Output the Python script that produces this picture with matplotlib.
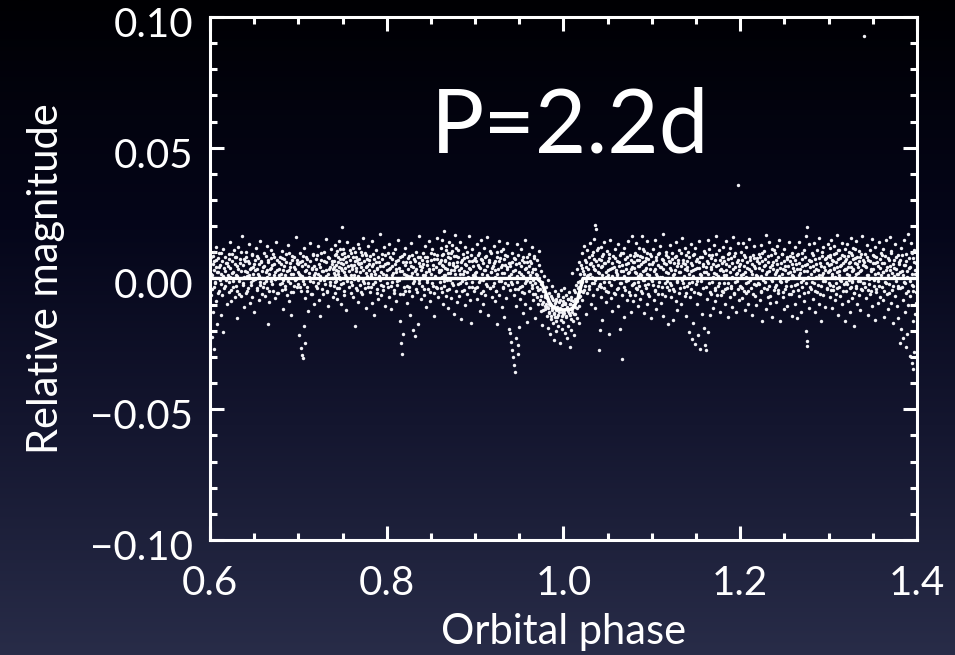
import numpy as np
import matplotlib
matplotlib.use('Agg')
import matplotlib.pyplot as plt
import matplotlib.transforms as mtransforms
from matplotlib.colors import LinearSegmentedColormap
from matplotlib.ticker import MultipleLocator, FormatStrFormatter, FuncFormatter

# Phase-folded light curve
# scattered points: (phase x1000, relative magnitude x10000)
obs = [
    (600, 31), (601, -62), (601, 84), (602, -225), (602, 12), (603, 57), (603, -128), (604, 103), (604, -34), (605, -269),
    (605, 68), (606, -19), (607, 121), (607, -87), (608, 26), (608, -174), (609, 79), (610, -48), (610, 43), (611, -7),
    (612, 96), (612, -141), (613, 18), (614, -65), (615, 112), (615, -203), (616, 39), (617, -28), (618, 61), (619, -99),
    (620, 47), (621, -15), (621, 92), (622, -53), (623, 138), (623, 5), (624, -88), (625, 66), (626, -31), (626, 24),
    (627, 107), (628, -72), (629, 14), (629, 81), (630, -46), (631, -152), (632, 35), (632, 119), (633, -9), (634, 58),
    (635, -67), (636, 163), (636, 2), (637, -24), (638, 74), (639, -110),
    (640, 29), (641, -57), (641, 101), (642, 8), (643, -36), (643, 67), (644, 132), (645, -95), (646, 41), (646, -14),
    (647, 88), (648, -71), (649, 19), (650, -128), (650, 55), (651, -3), (652, 115), (653, -44), (653, 36), (654, 77),
    (655, -82), (656, 11), (657, -26), (657, 145), (658, 62), (659, -58),
    (660, 44), (661, -19), (661, 96), (662, -66), (663, 23), (664, 125), (664, -38), (665, 6), (666, -176), (666, 71),
    (667, -91), (668, 37), (669, -11), (669, 109), (670, 52), (671, -49), (672, 15), (672, 84), (673, -73), (674, -2),
    (675, 139), (676, 31), (677, -56), (678, 63), (679, -21),
    (680, 18), (681, -44), (681, 79), (682, 106), (683, -7), (683, -117), (684, 48), (685, -29), (686, 92), (686, 3),
    (687, -63), (688, 127), (689, 34), (689, -85), (690, 61), (691, -16), (692, -139), (692, 19), (693, 85), (694, -52),
    (695, 42), (696, -4), (697, 158), (698, -34), (699, 70),
    (700, -23), (700, 54), (701, -215), (702, 13), (702, 97), (703, -264), (703, -47), (704, -292), (704, 66), (705, -306),
    (705, -8), (706, -181), (706, 118), (707, 27), (707, -248), (708, -76), (709, 82), (710, -31), (711, 46), (711, -125),
    (712, 5), (713, 134), (714, -58), (715, 38), (716, -14), (717, 91), (718, -97), (719, 22),
    (720, 74), (721, -38), (722, 17), (722, 123), (723, -82), (724, 44), (725, -6), (725, -143), (726, 99), (727, 28),
    (728, -61), (729, 68), (730, -22), (731, 151), (731, 9), (732, -47), (733, 83), (734, -106), (735, 35), (736, -15),
    (737, 112), (738, 56), (739, -69), (739, 2),
    (740, 45), (740, -27), (741, 88), (741, 12), (742, -54), (742, 129), (743, 31), (743, -8), (744, 104), (744, -79),
    (745, 62), (745, 17), (746, -38), (746, 145), (747, 76), (747, -3), (748, -96), (748, 39), (749, 198), (749, 92),
    (750, -19), (751, 57), (751, 113), (752, -64), (752, 24), (753, 81), (754, -121), (754, 6), (755, 139), (756, 49),
    (757, -33), (758, 71), (759, -57), (759, 15),
    (760, 96), (760, -12), (761, 38), (762, -71), (762, 117), (763, 53), (763, -2), (764, -183), (765, 84), (765, 27),
    (766, -44), (767, 133), (767, 61), (768, -89), (768, 11), (769, 75), (770, -26), (771, 102), (771, 42), (772, -58),
    (773, -8), (773, 156), (774, 68), (775, -37), (776, 21), (776, 89), (777, -113), (778, 47), (779, -16), (779, 124),
    (780, 33), (781, -51), (781, 87), (782, 9), (783, -94), (783, 142), (784, 56), (785, -23), (786, 73), (786, -141),
    (787, 18), (788, 107), (789, -42), (789, 39), (790, -78), (791, 64), (792, -5), (792, 171), (793, 26), (794, -62),
    (795, 95), (796, -30), (796, 48), (797, 121), (798, -104), (799, 14),
    (800, 58), (801, -34), (801, 99), (802, 3), (803, -72), (803, 131), (804, 41), (805, -118), (806, 76), (806, -13),
    (807, 22), (808, -55), (809, 112), (810, 35), (810, -87), (811, 68), (812, -24), (813, 149), (814, -4), (815, -162),
    (815, 81), (816, -246), (817, -287), (817, 29), (818, -61), (818, -211), (819, 94),
    (820, 17), (821, -46), (821, 118), (822, 62), (823, -93), (824, 8), (825, 85), (825, -31), (826, -138), (827, 47),
    (828, 136), (829, -67), (829, 21), (830, -196), (831, 73), (831, -9), (832, -221), (833, 103), (833, 38), (834, -52),
    (835, -174), (836, 59), (837, -17), (837, 162), (838, 84), (839, -79),
    (840, 44), (840, -28), (841, 97), (842, -63), (843, 15), (843, 126), (844, -108), (845, 52), (846, -4), (846, 83),
    (847, -41), (848, 143), (848, 27), (849, -86), (850, 69), (851, -19), (851, 111), (852, 36), (853, -57), (854, -142),
    (854, 92), (855, 8), (856, -33), (857, 76), (857, 155), (858, -71), (859, 23),
    (860, 64), (860, -14), (861, 118), (861, 33), (862, -52), (862, 89), (863, 7), (863, 147), (864, -96), (864, 46),
    (865, 183), (865, -27), (866, 71), (866, 15), (867, -66), (867, 124), (868, 38), (868, -5), (869, 96), (869, -112),
    (870, 55), (871, -39), (871, 138), (872, 22), (872, 79), (873, -74), (874, 104), (874, -18), (875, 61), (876, -135),
    (876, 31), (877, 168), (878, -48), (878, 86), (879, 2), (879, -91),
    (880, 49), (881, -23), (881, 107), (882, -67), (883, 17), (883, 139), (884, -154), (885, 72), (885, -8), (886, 94),
    (887, -43), (887, 28), (888, 121), (889, -101), (889, 56), (890, -19), (891, 83), (891, -59), (892, 6), (893, 164),
    (893, 41), (894, -82), (895, -171), (896, 67), (896, -31), (897, 112), (898, 14), (899, -48),
    (900, 78), (900, -36), (901, 25), (902, -79), (902, 131), (903, 53), (904, -12), (904, 99), (905, -123), (906, 39),
    (907, -55), (907, 146), (908, 71), (909, -4), (909, -96), (910, 118), (911, 31), (911, -65), (912, 87), (913, -27),
    (914, 157), (914, 12), (915, -141), (916, 63), (917, -38), (917, 104), (918, 24), (919, -72),
    (920, 47), (921, -18), (921, 126), (922, -88), (923, 68), (923, 5), (924, -47), (925, 101), (925, -176), (926, 36),
    (927, -63), (927, 143), (928, 79), (929, -11), (930, -108), (930, 52), (931, 114), (932, -34), (933, 21), (933, -147),
    (934, 89), (935, -76), (936, 137), (936, 43), (937, -24), (938, -193), (939, 61),
    (940, -207), (940, 46), (941, -242), (941, -15), (942, -274), (942, 97), (943, -301), (943, 28), (944, -331), (944, -62),
    (945, -358), (945, 73), (946, -226), (946, -104), (947, 132), (947, 9), (948, -288), (948, -41), (949, -253), (950, 58),
    (950, -187), (951, -79), (952, 114), (952, 19), (953, -29), (954, -132), (954, 81), (955, -55), (956, 37), (957, -98),
    (957, 148), (958, -11), (959, 64), (959, -165),
    (960, 23), (961, -47), (961, 93), (962, -114), (962, 12), (963, 58), (964, -26), (964, 121), (965, -81), (966, 35),
    (966, -7), (967, 87), (968, -58), (968, -152), (969, 17), (970, -33), (970, 69), (971, -97), (972, 3), (972, 105),
    (973, -42), (974, -123), (974, 28), (975, -66), (976, -14), (976, -178), (977, -89), (978, -41), (978, 9), (979, -118),
    (979, -62),
    (980, -96), (980, -31), (981, -142), (981, -73), (982, -112), (982, -5), (983, -188), (983, -88), (984, -54), (984, -131),
    (985, -213), (985, -102), (986, -68), (986, -156), (987, -119), (987, -29), (988, -171), (988, -84), (989, -137), (989, -236),
    (990, -95), (990, -48), (991, -164), (991, -122), (992, -77), (992, -201), (993, -109), (993, -148), (994, -61), (994, -183),
    (995, -128), (995, -91), (996, -247), (996, -115), (997, -43), (997, -159), (998, -102), (998, -193), (999, -134), (999, -72),
    (1000, -86), (1000, -168), (1001, -121), (1001, -38), (1002, -207), (1002, -97), (1003, -143), (1003, -64), (1004, -229), (1004, -112),
    (1005, -79), (1005, -182), (1006, -131), (1006, -52), (1007, -261), (1007, -99), (1008, -154), (1008, -118), (1009, -71), (1009, -196),
    (1010, -127), (1010, 21), (1011, -88), (1011, -162), (1012, -43), (1012, -218), (1013, -109), (1013, -136), (1014, -24), (1014, -78),
    (1015, -151), (1015, 37), (1016, -59), (1016, -12), (1017, -104), (1017, 64), (1018, -33), (1018, -172), (1019, 18), (1019, -67),
    (1020, 52), (1020, -21), (1021, 98), (1021, -84), (1022, 29), (1023, -43), (1023, 126), (1024, 71), (1025, -8), (1025, -136),
    (1026, 44), (1027, 109), (1027, -57), (1028, 13), (1029, 82), (1029, -29), (1030, 137), (1031, -96), (1031, 58), (1032, 6),
    (1033, -64), (1033, 103), (1034, 37), (1035, -18), (1035, 152), (1036, -112), (1036, 206), (1037, 189), (1037, 67), (1038, -41),
    (1039, 24), (1039, 118),
    (1040, -272), (1040, 76), (1041, -198), (1041, -23), (1042, 43), (1042, 121), (1043, -69), (1044, 14), (1044, -158), (1045, 92),
    (1046, -37), (1046, 139), (1047, 58), (1048, -91), (1048, 6), (1049, 104), (1050, -52), (1050, 31), (1051, -214), (1052, 79),
    (1052, -14), (1053, 148), (1054, -76), (1055, 39), (1055, -124), (1056, 87), (1057, -3), (1058, -61), (1058, 113), (1059, 26),
    (1060, -42), (1060, 68), (1061, 12), (1062, -107), (1062, 131), (1063, 47), (1064, -18), (1064, -193), (1065, 96), (1066, -309),
    (1066, -65), (1067, 28), (1068, 118), (1068, -33), (1069, -146), (1070, 74), (1071, -9), (1071, 55), (1072, -82), (1073, 142),
    (1073, 21), (1074, -51), (1075, 91), (1076, -127), (1076, 36), (1077, -25), (1078, 164), (1079, 63), (1079, -88),
    (1080, 41), (1080, -16), (1081, 99), (1081, -63), (1082, 22), (1082, 134), (1083, -41), (1083, 72), (1084, -107), (1084, 8),
    (1085, 118), (1086, 49), (1086, -28), (1087, -79), (1087, 86), (1088, 15), (1089, 161), (1089, -54), (1090, 63), (1090, -7),
    (1091, -133), (1091, 104), (1092, 31), (1093, -37), (1093, 78), (1094, -96), (1095, 142), (1095, 19), (1096, -21), (1097, 57),
    (1097, -68), (1098, 95), (1099, -3), (1099, -152),
    (1100, 54), (1101, -24), (1101, 112), (1102, -81), (1103, 37), (1103, 147), (1104, -46), (1105, -118), (1105, 69), (1106, 11),
    (1107, 93), (1107, -59), (1108, -12), (1109, 126), (1109, 42), (1110, -93), (1111, 76), (1111, -31), (1112, 5), (1113, 171),
    (1113, -142), (1114, 58), (1115, -67), (1116, 103), (1116, 24), (1117, -9), (1118, 84), (1118, -176), (1119, -44),
    (1120, 63), (1120, -19), (1121, 128), (1122, -72), (1122, 34), (1123, 97), (1124, -41), (1124, -158), (1125, 16), (1126, 82),
    (1127, -88), (1127, 139), (1128, 47), (1129, -13), (1129, -121), (1130, 71), (1131, -56), (1131, 108), (1132, 26), (1133, -99),
    (1134, 155), (1134, -7), (1135, 59), (1136, -34), (1137, 117), (1137, -67), (1138, 38), (1139, -143), (1139, 89),
    (1140, 44), (1140, -27), (1141, 102), (1142, -203), (1142, 17), (1143, -69), (1144, 133), (1144, 58), (1145, -231), (1145, -12),
    (1146, 89), (1147, -172), (1147, 31), (1148, -52), (1149, -249), (1149, 116), (1150, 67), (1151, -98), (1151, -8), (1152, -217),
    (1153, 144), (1153, 39), (1154, -61), (1155, -268), (1155, 81), (1156, 12), (1157, -134), (1158, 57), (1158, -36), (1159, -189),
    (1160, -254), (1160, 96), (1161, -272), (1161, 23), (1162, -79), (1163, 148), (1163, 61), (1164, -206), (1165, -19), (1165, 114),
    (1166, -141), (1167, 43), (1167, -58), (1168, 88), (1169, 5), (1169, -113), (1170, 129), (1171, -37), (1171, 71), (1172, -88),
    (1173, 18), (1173, 162), (1174, -64), (1175, 52), (1176, -16), (1176, 107), (1177, -127), (1178, 36), (1179, -46), (1179, 81),
    (1180, 28), (1180, -53), (1181, 121), (1182, -18), (1182, 67), (1183, -96), (1184, 143), (1184, 12), (1185, -38), (1186, 92),
    (1186, -147), (1187, 49), (1188, -71), (1188, 117), (1189, 3), (1190, 78), (1190, -27), (1191, -108), (1192, 158), (1192, 36),
    (1193, -61), (1194, 99), (1194, -14), (1195, -129), (1196, 63), (1196, 21), (1197, 356), (1197, -42), (1198, 134), (1199, -83),
    (1199, 47),
    (1200, 57), (1201, -31), (1201, 103), (1202, -74), (1203, 18), (1203, 136), (1204, -49), (1205, 82), (1205, -121), (1206, 6),
    (1207, -57), (1207, 119), (1208, 41), (1209, -13), (1209, -96), (1210, 152), (1211, 69), (1212, -36), (1212, 27), (1213, -139),
    (1214, 91), (1215, -22), (1215, 48), (1216, 124), (1217, -67), (1218, 14), (1218, -103), (1219, 77),
    (1220, -18), (1221, 93), (1221, 39), (1222, -84), (1223, 128), (1223, 11), (1224, -51), (1225, 68), (1225, -164), (1226, -6),
    (1227, 104), (1227, -38), (1228, 53), (1229, -117), (1229, 167), (1230, 24), (1231, -71), (1231, 86), (1232, -29), (1233, 138),
    (1234, 45), (1234, -93), (1235, -3), (1236, 112), (1236, -146), (1237, 62), (1238, -44), (1239, 19), (1239, 97),
    (1240, 71), (1240, -26), (1241, -89), (1242, 124), (1242, 33), (1243, -56), (1244, 8), (1244, 147), (1245, -161), (1246, 58),
    (1246, -14), (1247, 92), (1248, -72), (1248, 36), (1249, -118), (1250, 113), (1251, 47), (1251, -39), (1252, -9), (1253, 84),
    (1253, -104), (1254, 22), (1255, 139), (1255, -61), (1256, 65), (1257, -27), (1258, -143), (1258, 98), (1259, 13),
    (1260, -47), (1260, 82), (1261, 27), (1262, -98), (1262, 119), (1263, 56), (1264, -21), (1264, -152), (1265, 94), (1266, 15),
    (1267, -67), (1267, 141), (1268, 38), (1269, -128), (1270, 73), (1270, -34), (1271, -5), (1272, 108), (1272, -86), (1273, 51),
    (1274, -201), (1274, 162), (1275, -259), (1275, -238), (1276, 198), (1276, 29), (1277, -53), (1278, 131), (1278, -112), (1279, 66),
    (1280, 18), (1280, -39), (1281, 97), (1282, -77), (1282, 46), (1283, 136), (1284, -18), (1285, -129), (1285, 73), (1286, 7),
    (1287, 109), (1287, -52), (1288, 32), (1289, -96), (1289, 154), (1290, 61), (1291, -28), (1291, -161), (1292, 87), (1293, 13),
    (1294, -63), (1294, 121), (1295, 44), (1296, -108), (1296, -9), (1297, 79), (1298, -41), (1299, 133), (1299, 25),
    (1300, 52), (1300, -17), (1301, 118), (1301, -71), (1302, 31), (1302, 89), (1303, -43), (1303, 148), (1304, 9), (1304, -112),
    (1305, 67), (1305, -28), (1306, 126), (1306, 41), (1307, -84), (1307, 2), (1308, 97), (1308, -58), (1309, 168), (1309, 24),
    (1310, -36), (1311, 76), (1311, -141), (1312, 13), (1312, 109), (1313, -67), (1313, 48), (1314, -11), (1315, 137), (1315, -98),
    (1316, 59), (1317, -23), (1317, 85), (1318, -164), (1319, 36), (1319, 114),
    (1320, -47), (1320, 73), (1321, 16), (1321, 132), (1322, -88), (1322, 44), (1323, -6), (1323, 101), (1324, -129), (1324, 62),
    (1325, -31), (1325, 153), (1326, 27), (1326, -74), (1327, 91), (1327, -15), (1328, 118), (1328, 38), (1329, -56), (1329, -183),
    (1330, 79), (1330, 4), (1331, -38), (1331, 143), (1332, 57), (1332, -97), (1333, 21), (1334, 106), (1334, -62), (1335, -8),
    (1336, 84), (1336, -121), (1337, 33), (1338, 162), (1338, -44), (1339, 69),
    (1340, 927), (1340, -19), (1341, 94), (1341, 47), (1342, -76), (1343, 128), (1343, 12), (1344, -43), (1345, 71), (1345, -138),
    (1346, -2), (1347, 109), (1347, -61), (1348, 35), (1349, -104), (1349, 152), (1350, 58), (1351, -27), (1351, 86), (1352, -157),
    (1353, 19), (1353, 122), (1354, -53), (1355, 64), (1356, -11), (1356, -93), (1357, 141), (1358, 39), (1358, -71), (1359, 97),
    (1360, -34), (1360, 61), (1361, 113), (1362, -82), (1362, 24), (1363, -146), (1364, 86), (1364, -12), (1365, 147), (1366, -59),
    (1366, 43), (1367, -118), (1368, 72), (1368, -21), (1369, 159), (1370, 31), (1371, -93), (1371, 104), (1372, -44), (1373, -171),
    (1373, 56), (1374, 8), (1375, 131), (1375, -67), (1376, 37), (1377, -106), (1378, 89), (1378, -29), (1379, -152), (1379, 19),
    (1380, 63), (1381, -248), (1381, -36), (1382, 118), (1382, -192), (1383, 27), (1384, -81), (1384, -226), (1385, 149), (1385, -14),
    (1386, 52), (1386, -127), (1387, -261), (1388, 94), (1388, -57), (1389, -214), (1389, 6), (1390, 171), (1390, -102), (1391, 41),
    (1392, -297), (1392, -68), (1393, 135), (1394, -24), (1394, -322), (1395, 79), (1395, -163), (1396, -49), (1396, -348), (1397, 108),
    (1397, -281), (1398, 17), (1398, -136), (1399, -92), (1399, 58),
]

# denser core of the band: (phase x10000, relative magnitude x10000)
obs_core = [
    (6004, 62), (6013, 18), (6027, -41), (6031, 87), (6046, 33), (6052, -12), (6068, 71), (6073, 45), (6089, -57), (6094, 24),
    (6102, 96), (6117, 52), (6125, -23), (6139, 68), (6143, 9), (6158, -36), (6166, 81), (6171, 27), (6185, -5), (6197, 58),
    (6203, 13), (6218, 75), (6226, 39), (6232, -44), (6247, 92), (6251, 21), (6264, -8), (6279, 57), (6283, 84), (6296, -29),
    (6306, 46), (6311, 11), (6327, -61), (6334, 73), (6348, 28), (6352, 103), (6369, -17), (6375, 51), (6381, 6), (6398, 66),
    (6402, 82), (6416, 23), (6423, -49), (6437, 14), (6444, 59), (6458, 37), (6461, -26), (6477, 94), (6485, 42), (6492, -6),
    (6507, 71), (6513, 33), (6529, -38), (6536, 86), (6542, 18), (6554, 55), (6568, -13), (6573, 67), (6586, 3), (6591, 29),
    (6605, -33), (6612, 48), (6628, 87), (6633, -9), (6649, 31), (6654, 62), (6667, -47), (6672, 16), (6688, 78), (6695, 41),
    (6703, -21), (6716, 93), (6724, 54), (6738, -3), (6741, 26), (6757, 69), (6762, -55), (6779, 12), (6784, 38), (6796, 81),
    (6808, 57), (6813, -18), (6826, 34), (6832, 76), (6847, -39), (6851, 15), (6865, 63), (6874, 28), (6883, -8), (6897, 98),
    (6902, 44), (6918, -51), (6924, 71), (6939, 19), (6945, -27), (6953, 83), (6967, 36), (6971, -2), (6988, 59), (6994, 24),
    (7006, 16), (7014, 63), (7023, -34), (7037, 48), (7042, 9), (7056, 87), (7061, -22), (7078, 57), (7083, 31), (7095, -46),
    (7102, 74), (7117, 21), (7128, -11), (7134, 66), (7149, 39), (7155, -58), (7163, 92), (7176, 12), (7182, 47), (7197, -27),
    (7203, 36), (7215, 89), (7227, -16), (7238, 54), (7241, 8), (7256, 71), (7264, -41), (7279, 27), (7285, 101), (7292, -4),
    (7307, 62), (7313, 33), (7326, -53), (7331, 18), (7348, 79), (7354, 44), (7362, -24), (7377, 68), (7386, 2), (7393, 37),
    (7402, 68), (7406, 21), (7418, -14), (7423, 52), (7427, 93), (7436, -36), (7444, 27), (7451, 81), (7457, 44), (7463, 6),
    (7472, 112), (7478, 59), (7486, -21), (7493, 33), (7504, 74), (7512, -47), (7519, 96), (7525, 41), (7533, 12), (7541, 63),
    (7552, -9), (7566, 86), (7573, 28), (7584, 107), (7596, 51),
    (7603, 47), (7612, -24), (7616, 82), (7624, 14), (7636, 66), (7645, 103), (7651, -37), (7657, 39), (7664, 71), (7673, -6),
    (7684, 54), (7689, 118), (7695, 24), (7703, -52), (7713, 61), (7722, 88), (7734, 31), (7743, -19), (7752, 97), (7761, 45),
    (7773, 8), (7782, 73), (7791, -33), (7797, 56),
    (7804, 71), (7817, 16), (7825, -33), (7832, 49), (7846, 92), (7851, 27), (7869, -12), (7874, 64), (7888, 38), (7893, -57),
    (7906, 83), (7911, 11), (7927, 46), (7935, -26), (7942, 74), (7958, 19), (7963, -44), (7976, 57), (7984, 89), (7998, 33),
    (8007, -16), (8012, 61), (8025, 36), (8036, 84), (8043, -29), (8058, 47), (8062, 12), (8074, 96), (8086, -43), (8091, 55),
    (8104, 23), (8115, -8), (8123, 72), (8137, 41), (8146, -61), (8153, 29), (8168, 87), (8172, 3), (8185, 64), (8194, -34),
    (8203, 52), (8216, 14), (8224, -27), (8238, 78), (8243, 37), (8257, -48), (8266, 63), (8271, 9), (8289, 91), (8295, -19),
    (8301, 44), (8318, 27), (8322, 68), (8336, -39), (8345, 16), (8353, 83), (8367, -6), (8374, 49), (8382, 31), (8397, 72),
    (8406, 13), (8414, 57), (8427, -41), (8433, 84), (8448, 26), (8452, -14), (8461, 67), (8476, 38), (8484, -52), (8499, 99),
    (8503, 19), (8518, 53), (8524, -28), (8537, 76), (8542, 4), (8556, 42), (8565, 91), (8573, -37), (8587, 61), (8591, 33),
    (8602, 28), (8609, -35), (8616, 71), (8624, 53), (8633, 94), (8645, 12), (8651, -11), (8657, 66), (8664, 39), (8676, 108),
    (8682, -44), (8688, 81), (8695, 22), (8703, 61), (8716, -7), (8724, 97), (8731, 34), (8737, 128), (8745, 51), (8753, -24),
    (8762, 86), (8771, 17), (8777, 43), (8785, 116), (8796, 64),
    (8807, 84), (8812, 33), (8826, -19), (8838, 62), (8841, 41), (8855, -49), (8867, 17), (8873, 79), (8886, -3), (8894, 51),
    (8909, 102), (8913, 24), (8928, -31), (8934, 68), (8945, 36), (8952, 88), (8966, -14), (8971, 47), (8983, 72), (8997, 11),
    (9002, 22), (9014, 67), (9026, -33), (9038, 91), (9043, 44), (9057, -7), (9061, 76), (9079, 18), (9084, -46), (9092, 58),
    (9106, 31), (9115, 84), (9121, -21), (9137, 49), (9144, 7), (9158, 69), (9163, -38), (9176, 26), (9181, 97), (9195, 41),
    (9207, -28), (9212, 58), (9228, 31), (9233, -49), (9247, 82), (9251, 16), (9266, 67), (9274, -9), (9289, 43), (9293, 104),
    (9305, 22), (9317, -36), (9326, 73), (9338, 51), (9343, -17), (9359, 36), (9362, 86), (9378, 8), (9384, 59), (9396, -43),
    (9403, 17), (9418, 63), (9422, -21), (9436, 79), (9447, 34), (9451, -39), (9467, 56), (9474, -12), (9486, 88), (9493, 23),
    (9508, -31), (9516, 47), (9527, 71), (9532, -52), (9545, 9), (9553, 62), (9569, -18), (9572, 41), (9588, 83), (9591, -7),
    (9604, 49), (9619, -14), (9623, 67), (9638, -36), (9642, 24), (9657, -58), (9665, 79), (9676, -19), (9681, 38), (9697, -71),
    (9702, 12), (9714, -44), (9728, 53), (9733, -82), (9749, -23), (9756, -97), (9763, -48), (9771, -121), (9786, -71), (9792, -104),
    (9806, -62), (9812, -108), (9827, -81), (9833, -127), (9841, -97), (9854, -142), (9865, -113), (9873, -76), (9887, -131), (9892, -104),
    (9904, -149), (9918, -88), (9926, -121), (9937, -67), (9942, -138), (9955, -111), (9963, -84), (9978, -127), (9984, -143), (9996, -96),
    (10005, -131), (10016, -92), (10023, -146), (10034, -108), (10047, -77), (10052, -123), (10068, -98), (10073, -139), (10085, -84), (10091, -117),
    (10104, -101), (10116, -136), (10127, -79), (10132, -52), (10148, -113), (10153, -86), (10167, -37), (10174, -71), (10186, -8), (10193, -46),
    (10207, -12), (10213, 41), (10226, -53), (10235, 16), (10241, -27), (10258, 63), (10264, 8), (10272, 37), (10283, -41), (10296, 54),
    (10302, 19), (10317, 91), (10324, -18), (10338, 47), (10343, 76), (10357, -7), (10361, 34), (10376, 109), (10385, 52), (10398, -29),
    (10403, 22), (10419, 71), (10425, -32), (10436, 49), (10441, 87), (10457, -13), (10463, 58), (10478, 26), (10484, -47), (10499, 66),
    (10506, 14), (10512, 93), (10527, 37), (10535, -24), (10546, 61), (10551, 8), (10568, 44), (10574, -56), (10586, 79), (10593, 33),
    (10604, 18), (10617, -38), (10623, 64), (10636, 88), (10649, 27), (10654, -16), (10661, 52), (10678, 97), (10682, 11), (10695, -44),
    (10703, 36), (10716, 81), (10729, -7), (10731, 59), (10744, 24), (10758, -63), (10765, 72), (10772, 43), (10788, -21), (10797, 86),
    (10803, 63), (10809, 24), (10818, -36), (10832, 91), (10839, 47), (10846, -12), (10853, 71), (10861, 18), (10874, 54), (10879, -47),
    (10886, 83), (10894, 29), (10903, 112), (10911, -4), (10917, 68), (10924, -26), (10933, 41), (10942, 96), (10953, -58), (10961, 74),
    (10972, 13), (10981, 37), (10994, 87),
    (11007, -11), (11013, 64), (11026, 29), (11034, -43), (11045, 81), (11052, 17), (11069, 53), (11073, -27), (11085, 98), (11092, 6),
    (11104, 44), (11118, -61), (11127, 72), (11131, 36), (11149, -16), (11156, 89), (11164, 57), (11176, -33), (11182, 21), (11197, 67),
    (11203, 39), (11216, -26), (11224, 76), (11237, 14), (11245, 58), (11251, -49), (11263, 33), (11278, 87), (11284, -8), (11296, 61),
    (11309, 23), (11317, -37), (11326, 96), (11332, 48), (11348, -19), (11353, 71), (11367, 9), (11372, 54), (11389, -56), (11394, 31),
    (11402, 66), (11415, -17), (11424, 84), (11438, 28), (11443, -41), (11456, 53), (11461, 11), (11477, 92), (11483, 36), (11498, -23),
    (11506, 74), (11512, 41), (11525, -54), (11533, 62), (11547, 19), (11558, -9), (11564, 83), (11579, 47), (11585, 106), (11593, 24),
    (11608, 43), (11614, -31), (11623, 68), (11637, 17), (11642, 89), (11659, -52), (11665, 38), (11674, 77), (11683, -14), (11696, 56),
    (11703, 22), (11718, -44), (11726, 94), (11731, 46), (11747, 8), (11752, -27), (11768, 71), (11773, 33), (11785, -62), (11799, 59),
    (11802, 81), (11816, 13), (11824, -42), (11838, 57), (11843, 34), (11857, -19), (11866, 73), (11874, 98), (11885, 26), (11891, -37),
    (11907, 61), (11912, 4), (11929, 86), (11934, -54), (11946, 42), (11953, 17), (11967, -11), (11972, 69), (11988, 31), (11994, -28),
    (12004, 14), (12017, 72), (12023, -36), (12038, 48), (12041, 91), (12056, 23), (12068, -17), (12073, 63), (12084, -49), (12097, 37),
    (12106, 82), (12112, -6), (12129, 54), (12133, 19), (12145, -58), (12152, 77), (12167, 41), (12174, -24), (12186, 66), (12191, 9),
    (12208, 59), (12214, -22), (12223, 84), (12236, -47), (12247, 31), (12251, 97), (12265, 46), (12278, -13), (12284, 73), (12292, 18),
    (12303, -39), (12317, 62), (12326, 27), (12334, -66), (12348, 88), (12359, 52), (12362, -8), (12376, 36), (12381, 109), (12395, -31),
    (12406, 26), (12413, 57), (12428, -44), (12432, 81), (12447, 39), (12455, -11), (12469, 93), (12474, 16), (12486, -52), (12493, 68),
    (12507, 33), (12514, -27), (12526, 76), (12538, 48), (12543, -3), (12559, 87), (12562, 24), (12578, -61), (12584, 54), (12597, 41),
    (12601, 11), (12616, 69), (12624, -26), (12637, 88), (12643, 37), (12658, -43), (12669, 61), (12676, 22), (12683, -12), (12695, 97),
    (12704, 49), (12718, -57), (12723, 28), (12737, 83), (12746, -19), (12752, 54), (12767, 7), (12774, 72), (12789, -34), (12793, 43),
    (12806, 67), (12815, -13), (12824, 91), (12831, 29), (12849, -46), (12853, 56), (12862, 38), (12877, -24), (12886, 79), (12894, 14),
    (12908, -59), (12913, 47), (12927, 102), (12936, 21), (12941, -8), (12957, 74), (12963, 34), (12979, -37), (12982, 58), (12996, 86),
    (13003, 27), (13012, 84), (13018, -24), (13024, 57), (13036, 16), (13043, 71), (13051, -43), (13058, 38), (13064, 93), (13073, 6),
    (13082, 62), (13087, -16), (13095, 44), (13104, 107), (13113, -31), (13118, 27), (13126, 78), (13134, -5), (13145, 53), (13152, 88),
    (13163, -47), (13171, 34), (13186, 66), (13193, -12),
    (13202, 36), (13213, -21), (13219, 87), (13226, 14), (13232, 61), (13241, -38), (13248, 96), (13253, 43), (13264, -9), (13271, 74),
    (13277, 31), (13285, -54), (13294, 58), (13302, 112), (13308, 19), (13314, -27), (13325, 81), (13331, 44), (13337, -11), (13346, 67),
    (13353, 27), (13364, -42), (13372, 94), (13384, 51), (13393, -18),
    (13406, 62), (13414, -33), (13428, 43), (13432, 81), (13447, 14), (13455, -22), (13463, 67), (13476, 29), (13482, -48), (13497, 91),
    (13503, 36), (13512, -7), (13527, 58), (13538, -41), (13541, 84), (13559, 21), (13564, 46), (13573, -29), (13586, 73), (13592, 12),
    (13607, 89), (13612, 24), (13626, -46), (13631, 61), (13648, 33), (13653, -17), (13669, 78), (13674, 12), (13685, -56), (13692, 47),
    (13704, 96), (13713, 21), (13728, -28), (13736, 69), (13742, 41), (13757, -9), (13763, 84), (13779, 16), (13784, -38), (13791, 57),
    (13806, 24), (13812, 71), (13827, -32), (13834, 88), (13846, 13), (13853, 52), (13868, -19), (13872, 66), (13887, 28), (13893, -47),
    (13904, 79), (13917, -11), (13925, 43), (13938, 97), (13941, 16), (13959, -29), (13966, 62), (13974, 34), (13987, -53), (13995, 81),
]

# transit model curve
model_phase = [0.60, 0.970, 0.975, 0.980, 0.984, 0.988, 0.993, 1.000, 1.008, 1.012, 1.016, 1.019, 1.022, 1.40]
model_mag = [0.0, 0.0, -0.0015, -0.0055, -0.0090, -0.0110, -0.0118, -0.0120, -0.0118, -0.0108, -0.0080, -0.0040, 0.0, 0.0]

period_label = "P=2.2d"

phase = np.concatenate([[p / 1000.0 for p, m in obs], [p / 10000.0 for p, m in obs_core]])
dmag = np.concatenate([[m / 10000.0 for p, m in obs], [m / 10000.0 for p, m in obs_core]])

FONT = ['Lato', 'DejaVu Sans']
plt.rcParams['font.family'] = FONT

fig = plt.figure(figsize=(9.55, 6.55), dpi=100)

# dark slide background gradient
bg = fig.add_axes([0, 0, 1, 1], zorder=-10)
cmap = LinearSegmentedColormap.from_list(
    'slide', [(0.0, '#282c48'), (0.35, '#14162f'), (0.65, '#05061a'), (1.0, '#000003')])
bg.imshow(np.linspace(0, 1, 256).reshape(-1, 1), aspect='auto', cmap=cmap,
          origin='lower', extent=[0, 1, 0, 1])
bg.axis('off')

ax = fig.add_axes([0.2199, 0.1756, 0.7403, 0.7985])
ax.patch.set_alpha(0)

ax.scatter(phase, dmag, s=6, color='#f2f2f6', linewidths=0, zorder=2)
ax.plot(model_phase, model_mag, color='white', lw=2.4, zorder=3)

ax.set_xlim(0.6, 1.4)
ax.set_ylim(-0.1, 0.1)
ax.xaxis.set_major_locator(MultipleLocator(0.2))
ax.xaxis.set_minor_locator(MultipleLocator(0.05))
ax.yaxis.set_major_locator(MultipleLocator(0.05))
ax.yaxis.set_minor_locator(MultipleLocator(0.01))
ax.xaxis.set_major_formatter(FormatStrFormatter('%.1f'))


def fmt_mag(v, pos):
    if abs(v) < 1e-9:
        v = 0.0
    return f'{v:.2f}'.replace('-', '\u2212')


ax.yaxis.set_major_formatter(FuncFormatter(fmt_mag))

for sp in ax.spines.values():
    sp.set_color('white')
    sp.set_linewidth(2.2)

ax.tick_params(which='both', direction='in', top=True, right=True,
               color='white', width=2.2, labelcolor='white', labelsize=29)
ax.tick_params(which='major', length=10)
ax.tick_params(which='minor', length=5)
ax.tick_params(axis='x', which='major', pad=18)
ax.tick_params(axis='y', which='major', pad=12)

# y tick labels sit slightly below their ticks in the original
shift = mtransforms.ScaledTranslation(0, -5 / 100, fig.dpi_scale_trans)
for lbl in ax.get_yticklabels():
    lbl.set_transform(lbl.get_transform() + shift)

ax.set_xlabel('Orbital phase', color='white', fontsize=30, labelpad=8)
ax.set_ylabel('Relative magnitude', color='white', fontsize=30, labelpad=18)

ax.text(0.51, 0.74, period_label, transform=ax.transAxes, color='white',
        fontsize=64, ha='center', va='baseline')

fig.savefig('out.png', dpi=100, facecolor='black')
